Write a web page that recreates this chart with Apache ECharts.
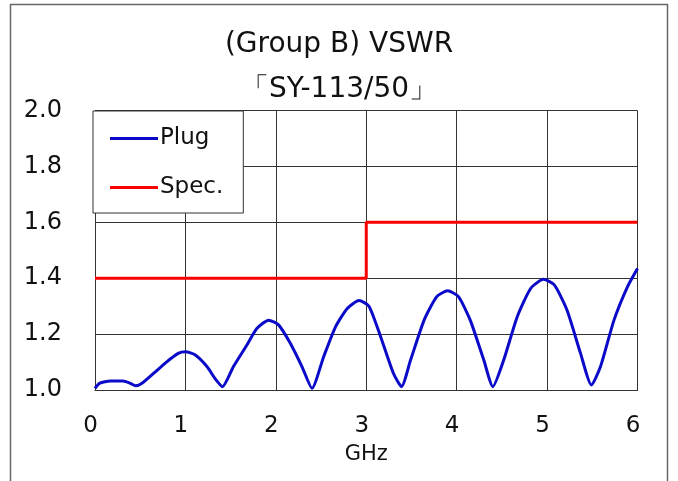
<!DOCTYPE html>
<html>
<head>
<meta charset="utf-8">
<script src="https://cdn.jsdelivr.net/npm/echarts@6/dist/echarts.min.js"></script>
<style>
  html, body { margin: 0; padding: 0; background: #fff; }
  #chart { width: 678px; height: 481px; }
</style>
</head>
<body>
<div id="chart"></div>
<script>
// data
const titleLines = ['(Group B) VSWR', '「SY-113/50」']
const xTicks = [0, 1, 2, 3, 4, 5, 6]
const yTicks = ['1.0', '1.2', '1.4', '1.6', '1.8', '2.0']

const plugGHz = [0, 0.05, 0.17, 0.31, 0.39, 0.45, 0.52, 0.65, 0.79, 0.92, 1.0, 1.11, 1.24, 1.33, 1.41,
  1.53, 1.68, 1.79, 1.92, 2.03, 2.16, 2.29, 2.40, 2.53, 2.66, 2.79, 2.92, 3.03, 3.16, 3.30, 3.39,
  3.49, 3.64, 3.78, 3.90, 4.02, 4.15, 4.30, 4.40, 4.52, 4.67, 4.82, 4.96, 5.08, 5.22, 5.37, 5.49,
  5.59, 5.74, 5.89, 6.0]
const plugVSWR = [1.006, 1.024, 1.032, 1.032, 1.024, 1.015, 1.024, 1.06, 1.10, 1.131, 1.137, 1.125, 1.083, 1.04, 1.012,
  1.083, 1.161, 1.22, 1.25, 1.233, 1.167, 1.083, 1.006, 1.12, 1.226, 1.292, 1.32, 1.30, 1.19, 1.06, 1.012,
  1.107, 1.25, 1.334, 1.355, 1.334, 1.25, 1.107, 1.012, 1.107, 1.262, 1.364, 1.396, 1.376, 1.286, 1.131, 1.018,
  1.083, 1.25, 1.37, 1.435]

const specGHz = [0, 3, 3, 6]
const specVSWR = [1.4, 1.4, 1.6, 1.6]

const zip = (xs, ys) => xs.map((x, i) => [x, ys[i]])

const chart = echarts.init(document.getElementById('chart'))

const font = 'DejaVu Sans'

chart.setOption({
  backgroundColor: '#fff',
  animation: false,
  title: {
    text: titleLines.join('\n'),
    left: 'center',
    top: 17,
    textStyle: { fontFamily: font, fontSize: 28, fontWeight: 'normal', color: '#111', lineHeight: 45 }
  },
  graphic: [
    {
      type: 'rect',
      shape: { x: 10.5, y: 4.5, width: 657, height: 520 },
      style: { fill: 'none', stroke: '#666', lineWidth: 1.5 },
      silent: true
    }
  ],
  legend: {
    orient: 'vertical',
    left: 93,
    top: 111,
    padding: [16, 20, 14, 17],
    itemGap: 26,
    itemWidth: 48,
    itemHeight: 3,
    icon: 'rect',
    borderColor: '#333',
    borderWidth: 1,
    backgroundColor: '#fff',
    textStyle: { fontFamily: font, fontSize: 23, color: '#111', padding: [0, 0, 0, -3] },
    data: ['Plug', 'Spec.']
  },
  grid: { left: 95, right: 40.5, top: 110.5, bottom: 91 },
  xAxis: {
    type: 'value',
    min: 0,
    max: 6,
    interval: 1,
    name: 'GHz',
    nameLocation: 'middle',
    nameGap: 54,
    nameTextStyle: { fontFamily: font, fontSize: 21, color: '#111' },
    axisLine: { show: true, lineStyle: { color: '#333', width: 1 } },
    axisTick: { show: false },
    axisLabel: {
      margin: 25, fontFamily: font, fontSize: 23, color: '#111', padding: [0, 9, 0, 0],
      formatter: v => xTicks.includes(v) ? String(v) : ''
    },
    splitLine: { show: true, lineStyle: { color: '#333', width: 1 } }
  },
  yAxis: {
    type: 'value',
    min: 1.0,
    max: 2.0,
    interval: 0.2,
    axisLine: { show: true, lineStyle: { color: '#333', width: 1 } },
    axisTick: { show: false },
    axisLabel: {
      margin: 33, fontFamily: font, fontSize: 24, color: '#111',
      formatter: v => yTicks[Math.round((v - 1) / 0.2)]
    },
    splitLine: { show: true, lineStyle: { color: '#333', width: 1 } }
  },
  series: [
    {
      name: 'Plug',
      type: 'line',
      smooth: 0.2,
      symbol: 'none',
      lineStyle: { color: '#0a0ac8', width: 3 },
      itemStyle: { color: '#0a0ac8' },
      data: zip(plugGHz, plugVSWR)
    },
    {
      name: 'Spec.',
      type: 'line',
      symbol: 'none',
      lineStyle: { color: '#ff0000', width: 3 },
      itemStyle: { color: '#ff0000' },
      data: zip(specGHz, specVSWR)
    }
  ]
})
</script>
</body>
</html>
